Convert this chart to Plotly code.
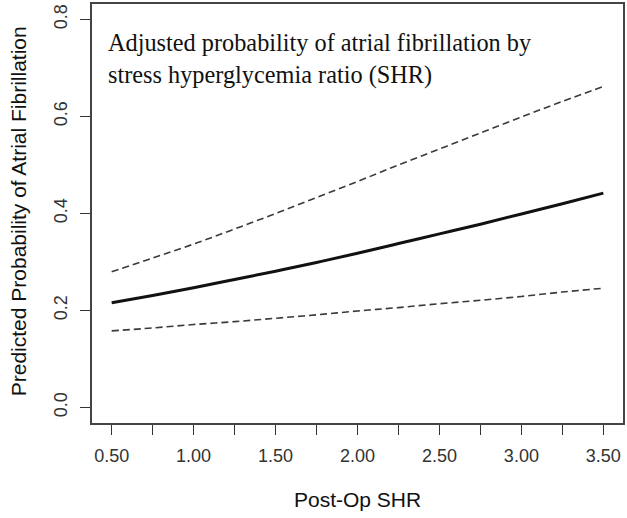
import plotly.graph_objects as go

# Post-operative stress hyperglycemia ratio (SHR) grid
shr = [0.50, 0.75, 1.00, 1.25, 1.50, 1.75, 2.00, 2.25, 2.50, 2.75, 3.00, 3.25, 3.50]

# Adjusted predicted probability of atrial fibrillation and its 95% confidence band
prob_fit = [0.216, 0.231, 0.247, 0.264, 0.281, 0.299, 0.318, 0.338, 0.358, 0.378, 0.399, 0.420, 0.442]
prob_upper = [0.280, 0.308, 0.337, 0.368, 0.400, 0.433, 0.466, 0.500, 0.533, 0.566, 0.599, 0.631, 0.662]
prob_lower = [0.158, 0.164, 0.171, 0.177, 0.184, 0.191, 0.199, 0.206, 0.214, 0.221, 0.229, 0.238, 0.246]

# Axis ticks
x_tick_vals = [0.50, 0.75, 1.00, 1.25, 1.50, 1.75, 2.00, 2.25, 2.50, 2.75, 3.00, 3.25, 3.50]
x_tick_text = ["0.50", "", "1.00", "", "1.50", "", "2.00", "", "2.50", "", "3.00", "", "3.50"]
y_tick_vals = [0.0, 0.2, 0.4, 0.6, 0.8]
y_tick_text = ["0.0", "0.2", "0.4", "0.6", "0.8"]

W, H = 627, 518
M_L, M_R, M_T, M_B = 92, 2, 4, 95
plot_w = W - M_L - M_R
plot_h = H - M_T - M_B

fig = go.Figure()

for band in (prob_upper, prob_lower):
    fig.add_trace(go.Scatter(
        x=shr, y=band, mode="lines",
        line=dict(color="#3a3a3a", width=1.6, dash="7px,4px"),
        line_shape="spline", hoverinfo="skip", showlegend=False,
    ))

fig.add_trace(go.Scatter(
    x=shr, y=prob_fit, mode="lines",
    line=dict(color="#111111", width=3),
    line_shape="spline", showlegend=False,
))

axis_common = dict(
    showgrid=False, zeroline=False,
    ticks="outside", ticklen=10, tickwidth=1.2, tickcolor="#333333",
    showline=True, linecolor="#444444", linewidth=1.5, mirror=True,
    tickfont=dict(family="Liberation Sans, Arial, sans-serif", size=18, color="#333333"),
)

fig.update_layout(
    width=W, height=H,
    margin=dict(l=M_L, r=M_R, t=M_T, b=M_B),
    paper_bgcolor="white", plot_bgcolor="white",
    xaxis=dict(range=[0.38, 3.62], tickmode="array", tickvals=x_tick_vals,
               ticktext=x_tick_text, ticklabelstandoff=6, **axis_common),
    yaxis=dict(range=[-0.032, 0.832], tickmode="array", tickvals=y_tick_vals,
               ticktext=y_tick_text, tickangle=-90, ticklabelstandoff=6, **axis_common),
    showlegend=False,
)

title_font = dict(family="Liberation Sans, Arial, sans-serif", size=21, color="#111111")

# Axis titles
fig.add_annotation(
    text="Post-Op SHR", xref="paper", yref="paper",
    x=(358 - M_L) / plot_w, y=(plot_h + M_T - 500) / plot_h,
    xanchor="center", yanchor="middle", showarrow=False, font=title_font,
)
fig.add_annotation(
    text="Predicted Probability of Atrial Fibrillation", xref="paper", yref="paper",
    x=(18 - M_L) / plot_w, y=(plot_h + M_T - 211) / plot_h,
    xanchor="center", yanchor="middle", textangle=-90, showarrow=False, font=title_font,
)

# In-panel caption
fig.add_annotation(
    text="Adjusted probability of atrial fibrillation by<br>stress hyperglycemia ratio (SHR)",
    xref="paper", yref="paper",
    x=(106 - M_L) / plot_w, y=(plot_h + M_T - 27) / plot_h,
    xanchor="left", yanchor="top", align="left", showarrow=False,
    font=dict(family="Liberation Serif, Times New Roman, serif", size=24.3, color="#111111"),
)

fig.write_html("out.html")
